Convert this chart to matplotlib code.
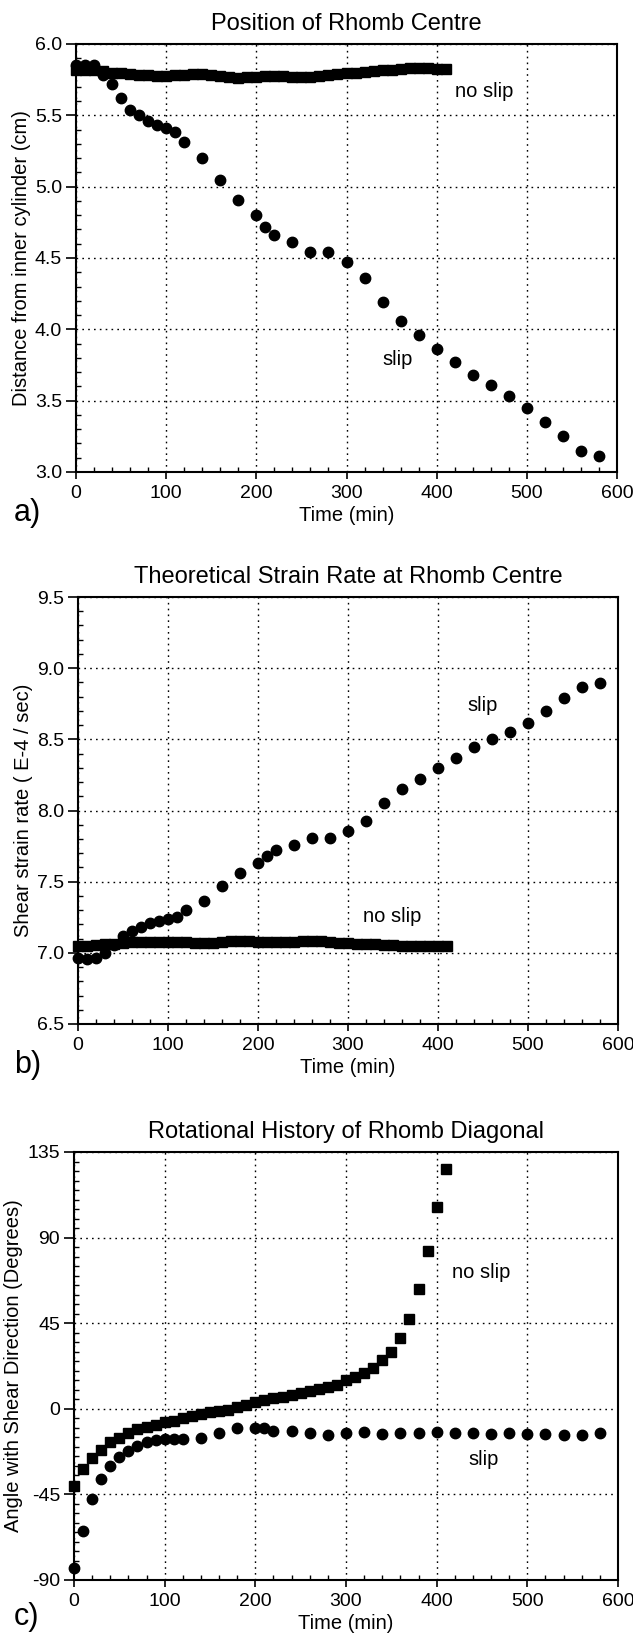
# Rhomb experiment: position, strain rate and rotation (slip / no slip)
import matplotlib
matplotlib.use("Agg")
import matplotlib.pyplot as plt
from matplotlib.ticker import MultipleLocator

plt.rcParams['font.family'] = ['Liberation Sans', 'DejaVu Sans']

# time axis for the two runs
t_slip = [0, 10, 20, 30, 40, 50, 60, 70, 80, 90, 100, 110, 120, 140, 160, 180,
          200, 210, 220, 240, 260, 280, 300, 320, 340, 360, 380, 400, 420, 440,
          460, 480, 500, 520, 540, 560, 580]
t_noslip = [0, 10, 20, 30, 40, 50, 60, 70, 80, 90, 100, 110, 120, 130, 140, 150,
            160, 170, 180, 190, 200, 210, 220, 230, 240, 250, 260, 270, 280, 290,
            300, 310, 320, 330, 340, 350, 360, 370, 380, 390, 400, 410]

# a) distance from inner cylinder (cm)
pos_slip = [5.85, 5.85, 5.85, 5.78, 5.72, 5.62, 5.54, 5.50, 5.46, 5.43, 5.41,
            5.38, 5.31, 5.20, 5.05, 4.91, 4.80, 4.72, 4.66, 4.61, 4.54, 4.54,
            4.47, 4.36, 4.19, 4.06, 3.96, 3.86, 3.77, 3.68, 3.61, 3.53, 3.45,
            3.35, 3.25, 3.15, 3.11]
pos_noslip = [5.82, 5.82, 5.815, 5.81, 5.80, 5.795, 5.79, 5.785, 5.78, 5.778,
              5.777, 5.78, 5.785, 5.79, 5.79, 5.785, 5.775, 5.768, 5.765, 5.768,
              5.772, 5.775, 5.774, 5.773, 5.772, 5.772, 5.772, 5.775, 5.785,
              5.79, 5.795, 5.80, 5.805, 5.81, 5.815, 5.82, 5.825, 5.83, 5.832,
              5.83, 5.828, 5.825]

# b) shear strain rate (E-4 / sec)
rate_slip = [6.965, 6.958, 6.965, 6.998, 7.056, 7.115, 7.153, 7.181, 7.207,
             7.221, 7.238, 7.254, 7.299, 7.365, 7.468, 7.56, 7.633, 7.68, 7.722,
             7.76, 7.805, 7.809, 7.854, 7.927, 8.054, 8.148, 8.224, 8.296, 8.369,
             8.445, 8.50, 8.554, 8.617, 8.70, 8.787, 8.866, 8.899]
rate_noslip = [7.047, 7.05, 7.055, 7.06, 7.065, 7.07, 7.073, 7.075, 7.077, 7.078,
               7.078, 7.075, 7.073, 7.07, 7.07, 7.072, 7.076, 7.08, 7.082, 7.08,
               7.078, 7.077, 7.077, 7.078, 7.079, 7.08, 7.08, 7.08, 7.077, 7.072,
               7.068, 7.065, 7.062, 7.06, 7.057, 7.054, 7.05, 7.048, 7.046, 7.046,
               7.046, 7.046]

# c) angle with shear direction (degrees)
ang_slip = [-83.8, -64.4, -47.3, -36.7, -30.2, -25.2, -22.1, -19.4, -17.6, -16.4,
            -15.7, -15.7, -15.7, -15.2, -12.7, -10.1, -10.2, -10.2, -11.5, -11.6,
            -12.7, -13.6, -12.7, -12.2, -13.2, -12.5, -12.5, -12.2, -12.5, -12.7,
            -13.1, -12.7, -13.4, -13.4, -13.9, -13.9, -12.5]
ang_noslip = [-40.6, -31.8, -25.9, -21.5, -17.6, -15.2, -12.7, -10.8, -9.4, -8.3,
              -7.1, -6.2, -4.9, -3.9, -2.6, -1.9, -1.2, -0.4, 0.7, 1.8, 3.5, 4.6,
              5.6, 6.4, 7.1, 8.1, 9.2, 10.2, 11.3, 12.4, 15.0, 16.6, 18.7, 21.3,
              25.8, 30.0, 37.4, 47.1, 62.8, 83.0, 106.2, 125.9]

fig = plt.figure(figsize=(6.33, 16.38), dpi=100)

panels = [
    dict(rect=[76/633, 1-472/1638, 541/633, 428/1638],
         title='Position of Rhomb Centre', ylabel='Distance from inner cylinder (cm)',
         ys=pos_slip, yn=pos_noslip, ylim=(3.0, 6.0), major=0.5, minor=0.1, fmt='{:.1f}',
         tag='a)', tag_y=1-528/1638,
         notes=[(453, 5.67, 'no slip'), (357, 3.79, 'slip')]),
    dict(rect=[78/633, 1-1024/1638, 540/633, 427/1638],
         title='Theoretical Strain Rate at Rhomb Centre', ylabel='Shear strain rate ( E-4 / sec)',
         ys=rate_slip, yn=rate_noslip, ylim=(6.5, 9.5), major=0.5, minor=0.1, fmt='{:.1f}',
         tag='b)', tag_y=1-1080/1638,
         notes=[(450, 8.735, 'slip'), (349, 7.256, 'no slip')]),
    dict(rect=[74/633, 1-1580/1638, 544/633, 428/1638],
         title='Rotational History of Rhomb Diagonal', ylabel='Angle with Shear Direction (Degrees)',
         ys=ang_slip, yn=ang_noslip, ylim=(-90, 135), major=45, minor=5, fmt='{:.0f}',
         tag='c)', tag_y=1-1632/1638,
         notes=[(449, 71.5, 'no slip'), (452, -26.5, 'slip')]),
]

for p in panels:
    ax = fig.add_axes(p['rect'])
    ax.plot(t_noslip, p['yn'], linestyle='none', marker='s', markersize=7,
            color='black', clip_on=False, zorder=3)
    ax.plot(t_slip, p['ys'], linestyle='none', marker='o', markersize=7.5,
            color='black', clip_on=False, zorder=3)
    ax.set_xlim(0, 600)
    ax.set_ylim(*p['ylim'])
    ax.xaxis.set_major_locator(MultipleLocator(100))
    ax.xaxis.set_minor_locator(MultipleLocator(20))
    ax.yaxis.set_major_locator(MultipleLocator(p['major']))
    ax.yaxis.set_minor_locator(MultipleLocator(p['minor']))
    yt = ax.get_yticks()
    ax.set_yticks(yt)
    ax.set_yticklabels([p['fmt'].format(v) for v in yt])
    ax.set_ylim(*p['ylim'])
    ax.grid(True, which='major', color='black', linestyle=(0, (1.2, 3)), linewidth=1)
    ax.tick_params(axis='x', which='major', direction='out', length=5, width=1.2,
                   labelsize=14, pad=4)
    ax.tick_params(axis='y', which='major', direction='out', length=7, width=1.2,
                   labelsize=14, pad=3)
    ax.tick_params(which='minor', direction='in', length=3.5, width=1)
    for s in ax.spines.values():
        s.set_linewidth(1.5)
    ax.set_title(p['title'], fontsize=17, pad=10)
    ax.set_xlabel('Time (min)', fontsize=14.5, labelpad=3)
    ax.set_ylabel(p['ylabel'], fontsize=14.5, labelpad=3)
    for x, y, s in p['notes']:
        ax.text(x, y, s, fontsize=14.5, ha='center', va='center')
    fig.text(14/633, p['tag_y'], p['tag'], fontsize=22, ha='left', va='bottom')

fig.savefig('out.png', dpi=100)
